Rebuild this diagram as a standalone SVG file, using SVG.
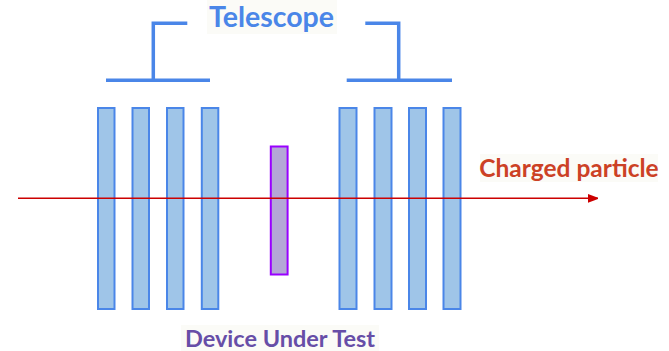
<svg xmlns="http://www.w3.org/2000/svg" width="669" height="351" viewBox="0 0 669 351">
  <style>
    .plane { fill: #9fc5e8; stroke: #4a86e8; stroke-width: 2; }
    .dut { fill: #b4a7d6; stroke: #9900ff; stroke-width: 2; }
    .bracket { fill: none; stroke: #4a86e8; stroke-width: 3.5; }
    .label { font-family: Lato, "Liberation Sans", sans-serif; font-weight: bold; }
    .label-bg { fill: #fbfbf7; }
  </style>
  <defs>
    <marker id="arrow" markerWidth="10" markerHeight="10" refX="10" refY="5" orient="auto" markerUnits="userSpaceOnUse">
      <path d="M0,0.5 L12,5 L0,9.5 Z" fill="#cc0000"/>
    </marker>
  </defs>
  <rect width="669" height="351" fill="#ffffff"/>

  <g id="telescope-label">
    <rect class="label-bg" x="207" y="0" width="130" height="34"/>
    <text class="label" x="271.5" y="27.3" font-size="28.5" fill="#4a86e8" text-anchor="middle">Telescope</text>
  </g>

  <g id="bracket-left">
    <path class="bracket" d="M106,80.3 H210 M153.3,80.3 V23.3 H187.3"/>
  </g>
  <g id="bracket-right">
    <path class="bracket" d="M346.7,80.3 H452 M398.7,80.3 V23.3 H365.3"/>
  </g>

  <g id="upstream-planes">
    <rect id="plane-1" class="plane" x="98" y="108" width="16.5" height="201"/>
    <rect id="plane-2" class="plane" x="132.5" y="108" width="16.5" height="201"/>
    <rect id="plane-3" class="plane" x="167" y="108" width="16.5" height="201"/>
    <rect id="plane-4" class="plane" x="201.8" y="108" width="16.5" height="201"/>
  </g>

  <g id="device-under-test">
    <rect class="dut" x="270.8" y="146.5" width="16.8" height="128"/>
  </g>

  <g id="downstream-planes">
    <rect id="plane-5" class="plane" x="339.5" y="108" width="17" height="201"/>
    <rect id="plane-6" class="plane" x="374.5" y="108" width="17" height="201"/>
    <rect id="plane-7" class="plane" x="409" y="108" width="17" height="201"/>
    <rect id="plane-8" class="plane" x="443.5" y="108" width="17" height="201"/>
  </g>

  <g id="connectors">
    <line id="particle-track" x1="18" y1="198.3" x2="597.7" y2="198.3" stroke="#cc0000" stroke-width="1.6" marker-end="url(#arrow)"/>
  </g>

  <g id="particle-label">
    <rect class="label-bg" x="480" y="154" width="178" height="28"/>
    <text class="label" x="569" y="177.3" font-size="24.5" fill="#cc4125" text-anchor="middle">Charged particle</text>
  </g>

  <g id="dut-label">
    <rect class="label-bg" x="181" y="325" width="198" height="26"/>
    <text class="label" x="280" y="347.3" font-size="23.5" fill="#674ea7" text-anchor="middle">Device Under Test</text>
  </g>
</svg>
